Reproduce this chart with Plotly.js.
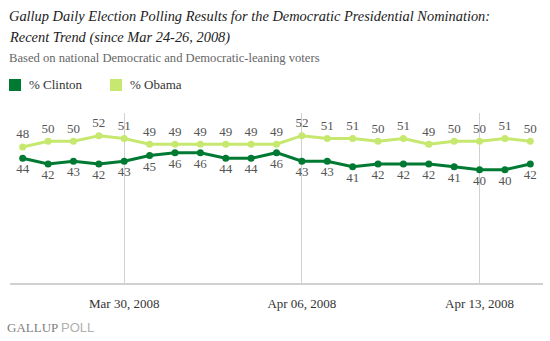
<!DOCTYPE html>
<html>
<head>
<meta charset="utf-8">
<script src="https://cdn.plot.ly/plotly-3.0.1.min.js"></script>
<style>html,body{margin:0;padding:0;background:#fff;}#chart{width:550px;height:341px;}</style>
</head>
<body>
<div id="chart"></div>
<script>
const dates = ["2008-03-26","2008-03-27","2008-03-28","2008-03-29","2008-03-30","2008-03-31","2008-04-01","2008-04-02","2008-04-03","2008-04-04","2008-04-05","2008-04-06","2008-04-07","2008-04-08","2008-04-09","2008-04-10","2008-04-11","2008-04-12","2008-04-13","2008-04-14","2008-04-15"];
const clinton = [44,42,43,42,43,45,46,46,44,44,46,43,43,41,42,42,42,41,40,40,42];
const obama = [48,50,50,52,51,49,49,49,49,49,49,52,51,51,50,51,49,50,50,51,50];
const tickDates = ["2008-03-30","2008-04-06","2008-04-13"];
const tickLabels = ["Mar 30, 2008","Apr 06, 2008","Apr 13, 2008"];
const seriesNames = ["% Clinton","% Obama"];

const clintonColor = "#007a33";
const obamaColor = "#c6e86f";
const serif = "'Liberation Serif', 'Times New Roman', serif";

const traces = [
  {x: dates, y: obama, name: seriesNames[1], type: "scatter", mode: "lines+markers+text",
   line: {color: obamaColor, width: 3}, marker: {color: obamaColor, size: 7},
   text: obama.map(String), textposition: "top center",
   textfont: {family: serif, size: 13, color: "#555"}, cliponaxis: false, hoverinfo: "skip"},
  {x: dates, y: clinton, name: seriesNames[0], type: "scatter", mode: "lines+markers+text",
   line: {color: clintonColor, width: 3}, marker: {color: clintonColor, size: 7},
   text: clinton.map(String), textposition: "bottom center",
   textfont: {family: serif, size: 13, color: "#555"}, cliponaxis: false, hoverinfo: "skip"}
];

const layout = {
  width: 550, height: 341,
  margin: {l: 10, r: 7, t: 113, b: 58},
  paper_bgcolor: "#fff", plot_bgcolor: "#fff",
  showlegend: false,
  font: {family: serif},
  xaxis: {
    type: "date",
    range: ["2008-03-25 12:00", "2008-04-15 12:00"],
    tickvals: tickDates, ticktext: tickLabels,
    showgrid: true, gridcolor: "#d0d0d0", gridwidth: 1,
    showline: true, linecolor: "#d0d0d0", linewidth: 2,
    ticks: "", ticklabelstandoff: 7,
    tickfont: {family: serif, size: 13, color: "#333"},
    zeroline: false, fixedrange: true
  },
  yaxis: {range: [0, 60], visible: false, showgrid: false, zeroline: false, fixedrange: true},
  annotations: [
    {xref: "paper", yref: "paper", x: 0, y: 0, xanchor: "left", yanchor: "middle", showarrow: false,
     text: "<i>Gallup Daily Election Polling Results for the Democratic Presidential Nomination:</i>",
     font: {family: serif, size: 14.4, color: "#222"}},
    {xref: "paper", yref: "paper", x: 0, y: 0, xanchor: "left", yanchor: "middle", showarrow: false,
     text: "<i>Recent Trend (since Mar 24-26, 2008)</i>",
     font: {family: serif, size: 14.4, color: "#222"}},
    {xref: "paper", yref: "paper", x: 0, y: 0, xanchor: "left", yanchor: "middle", showarrow: false,
     text: "Based on national Democratic and Democratic-leaning voters",
     font: {family: serif, size: 12.6, color: "#666"}},
    {xref: "paper", yref: "paper", x: 0, y: 0, xanchor: "left", yanchor: "middle", showarrow: false,
     text: seriesNames[0], font: {family: serif, size: 13, color: "#333"}},
    {xref: "paper", yref: "paper", x: 0, y: 0, xanchor: "left", yanchor: "middle", showarrow: false,
     text: seriesNames[1], font: {family: serif, size: 13, color: "#333"}},
    {xref: "paper", yref: "paper", x: 0, y: 0, xanchor: "left", yanchor: "middle", showarrow: false,
     text: "GALLUP <span style='font-family:\"Liberation Sans\", Arial, sans-serif;color:#b0b0b0'>POLL</span>",
     font: {family: serif, size: 13, color: "#808080"}}
  ],
  shapes: []
};

const plotW = 550 - layout.margin.l - layout.margin.r;
const plotH = 341 - layout.margin.t - layout.margin.b;
function px(x){ return (x - layout.margin.l) / plotW; }
function py(y){ return (341 - layout.margin.b - y) / plotH; }
const pos = [[7,16],[7,37],[7,58],[27,85],[128,85],[5,327]];
pos.forEach((p,i)=>{ layout.annotations[i].x = px(p[0]); layout.annotations[i].y = py(p[1]); });
layout.shapes.push(
  {type:"rect", xref:"paper", yref:"paper", x0:px(9), x1:px(21), y0:py(79), y1:py(91), fillcolor: clintonColor, line:{width:0}},
  {type:"rect", xref:"paper", yref:"paper", x0:px(110), x1:px(122), y0:py(79), y1:py(91), fillcolor: obamaColor, line:{width:0}}
);

Plotly.newPlot("chart", traces, layout, {displayModeBar: false, staticPlot: true});
</script>
</body>
</html>
